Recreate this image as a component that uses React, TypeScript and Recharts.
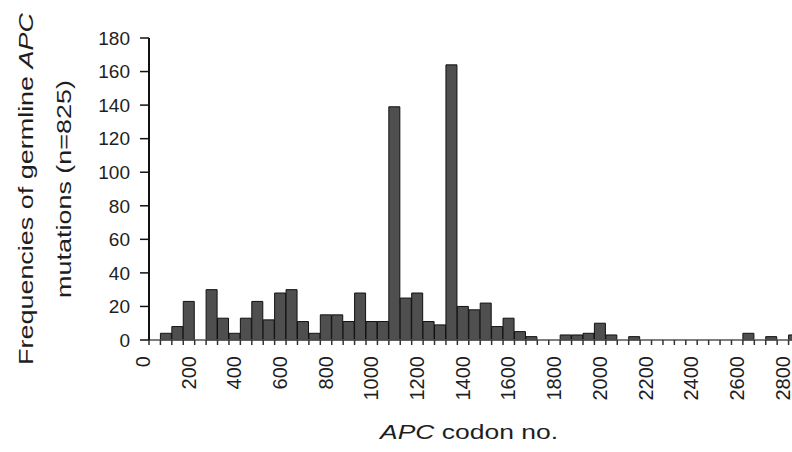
import React from 'react'
import { BarChart, Bar, XAxis, YAxis, Label } from 'recharts'

// lower edge of each 50-codon bin
const bins = [
  0, 50, 100, 150, 200, 250, 300, 350, 400, 450, 500, 550, 600, 650, 700, 750, 800, 850, 900, 950,
  1000, 1050, 1100, 1150, 1200, 1250, 1300, 1350, 1400, 1450, 1500, 1550, 1600, 1650, 1700, 1750,
  1800, 1850, 1900, 1950, 2000, 2050, 2100, 2150, 2200, 2250, 2300, 2350, 2400, 2450, 2500, 2550,
  2600, 2650, 2700, 2750, 2800,
]

// germline mutations per bin
const counts = [
  0, 4, 8, 23, 0, 30, 13, 4, 13, 23, 12, 28, 30, 11, 4, 15, 15, 11, 28, 11,
  11, 139, 25, 28, 11, 9, 164, 20, 18, 22, 8, 13, 5, 2, 0, 0,
  3, 3, 4, 10, 3, 0, 2, 0, 0, 0, 0, 0, 0, 0, 0, 0,
  4, 0, 2, 0, 3,
]

const xLabels = [0, 200, 400, 600, 800, 1000, 1200, 1400, 1600, 1800, 2000, 2200, 2400, 2600, 2800]
const yTicks = [0, 20, 40, 60, 80, 100, 120, 140, 160, 180]

const data = bins.map((bin, i) => ({ bin, count: counts[i] }))

const FONT = '"Liberation Sans", Arial, Helvetica, sans-serif'
const INK = '#1e1e1e'

function CodonTick(props: any) {
  const { x, y, payload } = props
  if (!xLabels.includes(payload.value)) return null
  const bx = x + 1
  const by = y + 9
  return (
    <text
      x={bx}
      y={by}
      transform={`rotate(-90, ${bx}, ${by})`}
      textAnchor="end"
      fontSize={20}
      fontFamily={FONT}
      fill={INK}
    >
      {payload.value}
    </text>
  )
}

function XTitle() {
  return (
    <text
      x={469}
      y={439}
      textAnchor="middle"
      fontSize={20}
      fontFamily={FONT}
      fill={INK}
      textLength={178}
      lengthAdjust="spacingAndGlyphs"
    >
      <tspan fontStyle="italic">APC</tspan> codon no.
    </text>
  )
}

function YTitle() {
  return (
    <g fontFamily={FONT} fontSize={20} fill={INK}>
      <text
        x={33}
        y={189}
        transform="rotate(-90, 33, 189)"
        textAnchor="middle"
        textLength={352}
        lengthAdjust="spacingAndGlyphs"
      >
        Frequencies of germline <tspan fontStyle="italic">APC</tspan>
      </text>
      <text
        x={71}
        y={189}
        transform="rotate(-90, 71, 189)"
        textAnchor="middle"
        textLength={218}
        lengthAdjust="spacingAndGlyphs"
      >
        mutations (n=825)
      </text>
    </g>
  )
}

export default function App() {
  return (
    <div
      style={{
        position: 'absolute',
        left: 0,
        top: 0,
        width: 792,
        height: 452,
        overflow: 'hidden',
        background: '#fff',
      }}
    >
      <BarChart
        width={810}
        height={452}
        data={data}
        margin={{ top: 38, right: 10, bottom: 0, left: 89 }}
        barCategoryGap={0}
      >
        <XAxis
          xAxisId="codon"
          dataKey="bin"
          type="number"
          domain={[0, 2850]}
          ticks={bins}
          interval={0}
          height={112}
          axisLine={{ stroke: '#555', strokeWidth: 1.5 }}
          tickLine={{ stroke: '#333', strokeWidth: 1.5 }}
          tickSize={5}
          tick={<CodonTick />}
        >
          <Label content={<XTitle />} />
        </XAxis>
        <XAxis dataKey="bin" xAxisId="bins" hide height={0} />
        <YAxis
          width={60}
          domain={[0, 180]}
          ticks={yTicks}
          interval={0}
          axisLine={{ stroke: '#111', strokeWidth: 2 }}
          tickLine={{ stroke: '#111', strokeWidth: 1.5 }}
          tickSize={9}
          tickMargin={10}
          tick={{ fontSize: 19, fontFamily: FONT, fill: INK }}
        >
          <Label content={<YTitle />} />
        </YAxis>
        <Bar
          dataKey="count"
          xAxisId="bins"
          fill="#4f4f4f"
          stroke="#111"
          strokeWidth={1}
          isAnimationActive={false}
        />
      </BarChart>
    </div>
  )
}
